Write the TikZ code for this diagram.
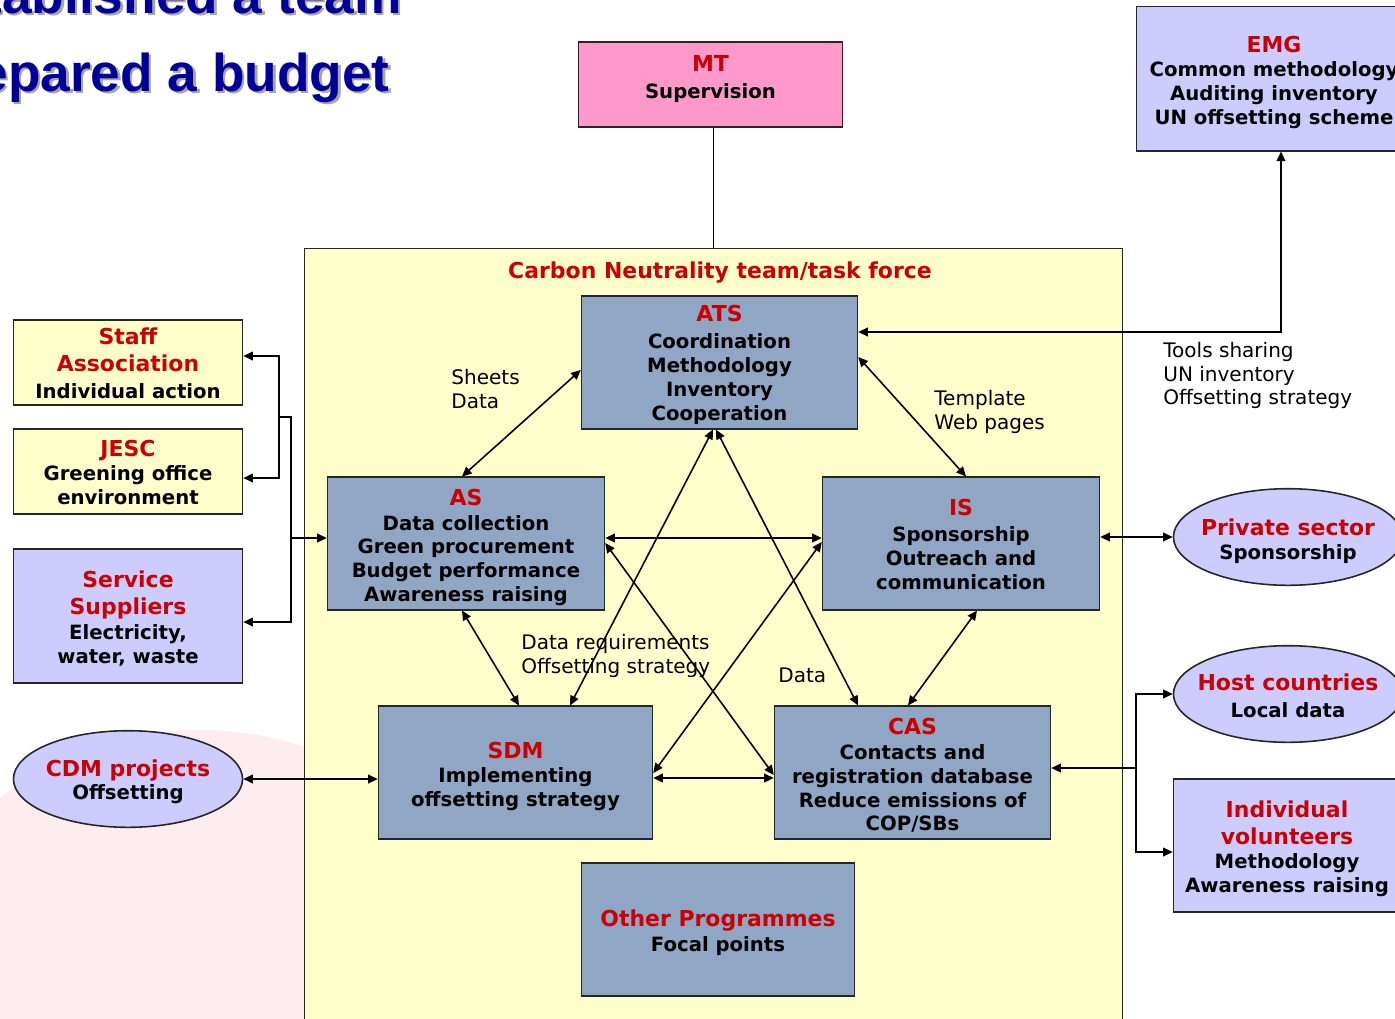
\documentclass[tikz,border=0pt]{standalone}
\usepackage{fontspec}
\setmainfont{DejaVu Sans}
\newfontfamily\headfont{Liberation Sans}
\usetikzlibrary{arrows.meta,shapes.geometric}

\definecolor{cnyellow}{HTML}{FFFFCC}
\definecolor{cnslate}{RGB}{143,166,196}
\definecolor{cnlilac}{HTML}{CCCCFF}
\definecolor{cnpink}{HTML}{FF99CC}
\definecolor{cnred}{HTML}{CC0000}
\definecolor{cnnavy}{HTML}{000099}
\definecolor{cnblush}{RGB}{253,237,239}

% red heading line inside a box; the optional height sets the top of the text block
\newcommand{\hd}[2][0pt]{\rule{0pt}{#1}{\color{cnred}\fontsize{12.5}{15}\selectfont #2}}
% extra depth below the last line of a box
\newcommand{\lowend}[1]{\rule[-#1]{0pt}{0pt}}

\begin{document}
\begin{tikzpicture}[x=0.02cm,y=-0.02cm,
  sized/.style 2 args={minimum width={#1*0.5669pt}, minimum height={#2*0.5669pt}},
  box/.style={draw=black!85, line width=0.9pt, inner sep=0pt, align=center,
    text=black, font=\bfseries\fontsize{11.2}{13.6}\selectfont},
  slate/.style={box, fill=cnslate},
  cream/.style={box, fill=cnyellow},
  lilac/.style={box, fill=cnlilac},
  oval/.style={box, ellipse, fill=cnlilac, inner xsep=-10pt, inner ysep=-6pt, sized={230}{97}},
  plain/.style={line width=0.9pt},
  link/.style={plain, {Triangle[length=5.5pt,width=5pt]}-{Triangle[length=5.5pt,width=5pt]}},
  arrow/.style={plain, -{Triangle[length=5.5pt,width=5pt]}},
  note/.style={inner sep=0pt, align=left, anchor=west, font=\fontsize{11.4}{13.6}\selectfont},
  headline/.style={inner sep=0pt, anchor=base east, font=\headfont\bfseries\fontsize{30.3}{36}\selectfont}
]
\useasboundingbox (0,0) rectangle (1395,1018);
\clip (0,0) rectangle (1395,1018);

% faint globe in the slide background
\fill[cnblush] (200,1060) circle (330);

% slide heading
\node[headline, text=black!35] (headAshadow) at (404.5,15.5) {Established a team};
\node[headline, text=cnnavy] (headA) at (402,13) {Established a team};
\node[headline, text=black!35] (headBshadow) at (392.5,93.5) {Prepared a budget};
\node[headline, text=cnnavy] (headB) at (390,91) {Prepared a budget};

% task force container
\node[draw=black!85, fill=cnyellow, line width=0.9pt, inner sep=0pt, sized={821}{793}] (team) at (713.5,643.5) {};
\node[inner sep=0pt, text=cnred, font=\bfseries\fontsize{12.5}{15}\selectfont] (teamhead) at (720,272.5) {Carbon Neutrality team/task force};

% supervision
\node[box, fill=cnpink, sized={265}{85}] (mt) at (710.5,84.5) {\hd{MT}\\[1.5pt]Supervision\lowend{8.3pt}};

% core units
\node[slate, sized={277}{133}] (ats) at (719.5,362.5) {\hd[12.1pt]{ATS}\\[2pt]Coordination\\Methodology\\Inventory\\Cooperation};
\node[slate, sized={278}{133}] (as) at (466,543.5) {\hd[13.8pt]{AS}\\[0.5pt]Data collection\\Green procurement\\Budget performance\\Awareness raising};
\node[slate, sized={278}{133}] (is) at (961,543.5) {\hd[10.4pt]{IS}\\[1pt]Sponsorship\\Outreach and\\communication};
\node[slate, sized={275}{133}] (sdm) at (515.5,772.5) {\hd[13.8pt]{SDM}\\[0.5pt]Implementing\\offsetting strategy};
\node[slate, sized={277}{133}] (cas) at (912.5,772.5) {\hd[12.7pt]{CAS}\\[0.5pt]Contacts and\\registration database\\Reduce emissions of\\COP/SBs};
\node[slate, sized={274}{133}] (other) at (718,929.5) {\hd[13.3pt]{Other Programmes}\\[0.5pt]Focal points};

% partners on the left
\node[cream, sized={230}{85}] (staff) at (128,362.5) {\hd[10.6pt]{Staff}\\[1.7pt]\hd{Association}\\[2pt]Individual action};
\node[cream, sized={230}{85}] (jesc) at (128,471.5) {\hd[10.4pt]{JESC}\\[0.5pt]Greening office\\environment};
\node[lilac, sized={230}{134}] (serv) at (128,616) {\hd[12.1pt]{Service}\\[1.7pt]\hd{Suppliers}\\[0.5pt]Electricity,\\water, waste};
\node[oval] (cdm) at (128,779) {\hd[12.7pt]{CDM projects}\\Offsetting};

% partners on the right
\node[lilac, sized={276}{145}] (emg) at (1274,78.5) {\hd[13.8pt]{EMG}\\[0.5pt]Common methodology\\Auditing inventory\\UN offsetting scheme};
\node[oval] (priv) at (1288,537) {\hd[13.8pt]{Private sector}\\Sponsorship};
\node[oval] (host) at (1288,694) {\hd[11.6pt]{Host countries}\\[1.5pt]Local data};
\node[lilac, sized={228}{133}] (indiv) at (1287,845.5) {\hd[13.3pt]{Individual}\\[1.5pt]\hd{volunteers}\\Methodology\\Awareness raising};

% connector labels
\node[note] (lblsheets) at (451,389) {Sheets\\Data};
\node[note] (lbltemplate) at (934,412) {Template\\Web pages};
\node[note] (lbltools) at (1163,375.5) {Tools sharing\\UN inventory\\Offsetting strategy};
\node[note] (lblreq) at (521,656) {Data requirements\\Offsetting strategy};
\node[note] (lbldata) at (778,675) {Data};

% connectors
\draw[plain] (mt.south -| team.north) -- (team.north);
\draw[link] (ats.east |- 0,332) -| (emg.south -| 1281,0);
\draw[link] (ats.west |- 0,370) -- (as.north -| 462,0);
\draw[link] (ats.east |- 0,357) -- (is.north -| 966,0);
\draw[link] (ats.south -| 713,0) -- (sdm.north -| 570,0);
\draw[link] (ats.south -| 716,0) -- (cas.north -| 858,0);
\draw[link] (as.east |- 0,538) -- (is.west |- 0,538);
\draw[link] (as.east |- 0,543) -- (cas.west |- 0,775);
\draw[link] (is.west |- 0,542) -- (sdm.east |- 0,773);
\draw[link] (sdm.east |- 0,778) -- (cas.west |- 0,778);
\draw[link] (as.south -| 462,0) -- (sdm.north -| 519,0);
\draw[link] (is.south -| 977,0) -- (cas.north -| 908,0);
\draw[link] (cdm.east) -- (sdm.west |- cdm.east);
\draw[link] (is.east |- priv.west) -- (priv.west);

% fan-out to the right-hand partners
\coordinate (rj) at (1136,768);
\draw[arrow] (rj) -- (cas.east |- rj);
\draw[arrow] (rj) |- (host.west);
\draw[arrow] (rj) |- (indiv.west |- 0,852);

% fan-out to the left-hand partners
\coordinate (lj) at (291,538);
\coordinate (lk) at (279,417);
\draw[arrow] (lj) -- (as.west |- lj);
\draw[plain] (lj) |- (lk);
\draw[arrow] (lj) |- (serv.east |- 0,622);
\draw[arrow] (lk) |- (staff.east |- 0,356);
\draw[arrow] (lk) |- (jesc.east |- 0,478);
\end{tikzpicture}
\end{document}
